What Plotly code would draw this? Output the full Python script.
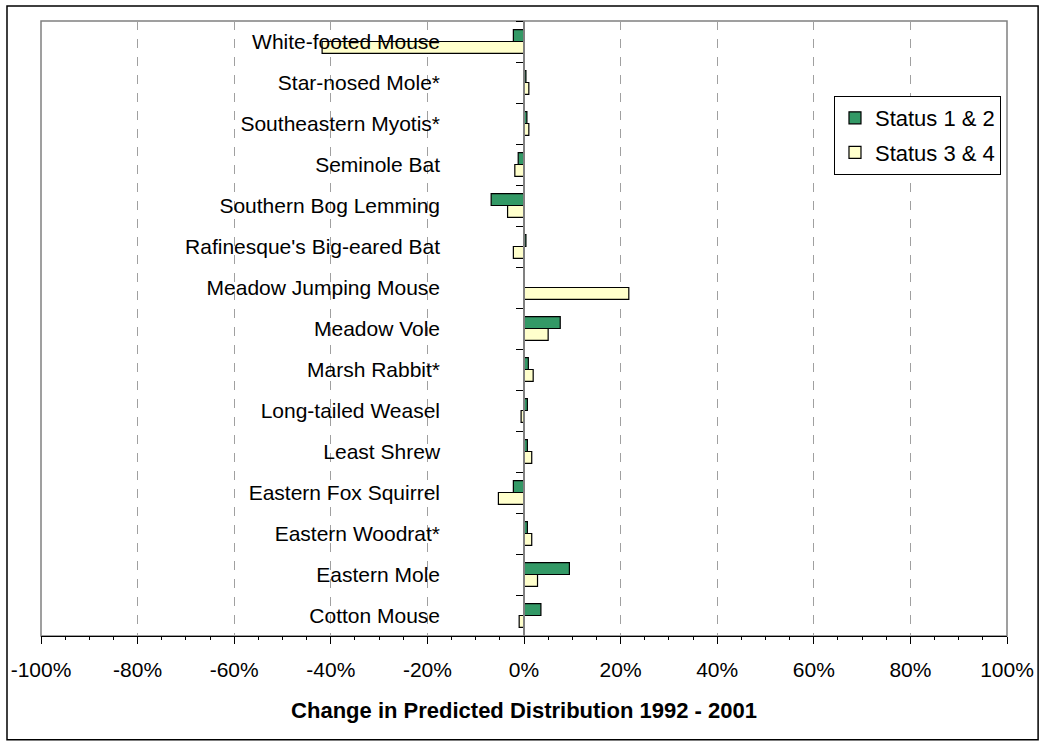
import plotly.graph_objects as go

# Species, listed bottom to top as they appear on the chart
species = [
    "Cotton Mouse",
    "Eastern Mole",
    "Eastern Woodrat*",
    "Eastern Fox Squirrel",
    "Least Shrew",
    "Long-tailed Weasel",
    "Marsh Rabbit*",
    "Meadow Vole",
    "Meadow Jumping Mouse",
    "Rafinesque's Big-eared Bat",
    "Southern Bog Lemming",
    "Seminole Bat",
    "Southeastern Myotis*",
    "Star-nosed Mole*",
    "White-footed Mouse",
]

# Change in predicted distribution, 1992 - 2001 (fractions)
status_12 = [0.035, 0.094, 0.007, -0.022, 0.007, 0.007, 0.009, 0.075, 0.0,
             0.004, -0.068, -0.012, 0.006, 0.004, -0.022]
status_34 = [-0.010, 0.028, 0.016, -0.053, 0.016, -0.006, 0.019, 0.050, 0.217,
             -0.022, -0.034, -0.019, 0.010, 0.010, -0.418]

x_ticks = [-1.0, -0.8, -0.6, -0.4, -0.2, 0.0, 0.2, 0.4, 0.6, 0.8, 1.0]
x_tick_labels = ["-100%", "-80%", "-60%", "-40%", "-20%", "0%",
                 "20%", "40%", "60%", "80%", "100%"]

FONT = "Liberation Sans, Arial, sans-serif"

fig = go.Figure()

# Yellow first so it sits below the green bar within each group
fig.add_trace(go.Bar(
    y=species, x=status_34, orientation="h", name="Status 3 & 4",
    marker=dict(color="#FFFFCC", line=dict(color="#000000", width=1.2)),
    legendrank=2, legendgroup="b",
))
fig.add_trace(go.Bar(
    y=species, x=status_12, orientation="h", name="Status 1 & 2",
    marker=dict(color="#339966", line=dict(color="#000000", width=1.2)),
    legendrank=1, legendgroup="a",
))

fig.update_layout(
    width=1040, height=746,
    margin=dict(l=41, r=33, t=21, b=110, autoexpand=False),
    paper_bgcolor="white", plot_bgcolor="white",
    barmode="group", bargap=0.42, bargroupgap=0.0,
    font=dict(family=FONT, size=21, color="black"),
    showlegend=True,
    legend=dict(
        x=0.8209, y=0.878, xanchor="left", yanchor="top",
        bgcolor="white", bordercolor="black", borderwidth=1,
        font=dict(family=FONT, size=22, color="black"),
        traceorder="grouped", tracegroupgap=3,
        itemwidth=30,
    ),
    xaxis=dict(
        range=[-1.0, 1.0], tickvals=x_ticks, ticktext=x_tick_labels,
        automargin=False,
        showgrid=True, gridcolor="#A0A0A0", griddash="dash", gridwidth=1,
        zeroline=False,
        showline=True, linecolor="black", linewidth=1.2,
        ticks="outside", ticklen=7, tickcolor="black", tickwidth=1.2,
        minor=dict(dtick=0.05, ticks="outside", ticklen=3, tickcolor="black",
                   tickwidth=1, showgrid=False),
        tickfont=dict(family=FONT, size=21),
        ticklabelstandoff=8,
        title=dict(text="<b>Change in Predicted Distribution 1992 - 2001</b>",
                   font=dict(family=FONT, size=22), standoff=22),
        fixedrange=True,
    ),
    # duplicate axis drawing the inner halves of the crossing tick marks
    xaxis2=dict(
        overlaying="x", matches="x", anchor="y", side="bottom",
        automargin=False,
        range=[-1.0, 1.0], tickvals=x_ticks, showticklabels=False,
        showgrid=False, zeroline=False, showline=False,
        ticks="inside", ticklen=4, tickcolor="black", tickwidth=1.2,
        minor=dict(dtick=0.05, ticks="inside", ticklen=5, tickcolor="black",
                   tickwidth=1, showgrid=False),
    ),
    yaxis=dict(
        type="category", categoryorder="array", categoryarray=species,
        anchor="free", position=0.5, automargin=False,
        showline=True, linecolor="#808080", linewidth=1.5,
        ticks="outside", ticklen=7, tickcolor="black", tickwidth=1.2,
        tickson="boundaries",
        showgrid=False, zeroline=False,
        tickfont=dict(family=FONT, size=21),
        ticklabelstandoff=79,
        fixedrange=True,
    ),
    shapes=[
        # plot area frame
        dict(type="rect", xref="paper", yref="paper", x0=0, x1=1, y0=0, y1=1,
             line=dict(color="#808080", width=1.5), layer="below"),
        # chart frame
        dict(type="rect", xref="paper", yref="paper",
             x0=-0.0352, x1=1.0322, y0=-0.1685, y1=1.0244,
             line=dict(color="black", width=1.5), layer="below"),
    ],
)

fig.write_html("out.html")
